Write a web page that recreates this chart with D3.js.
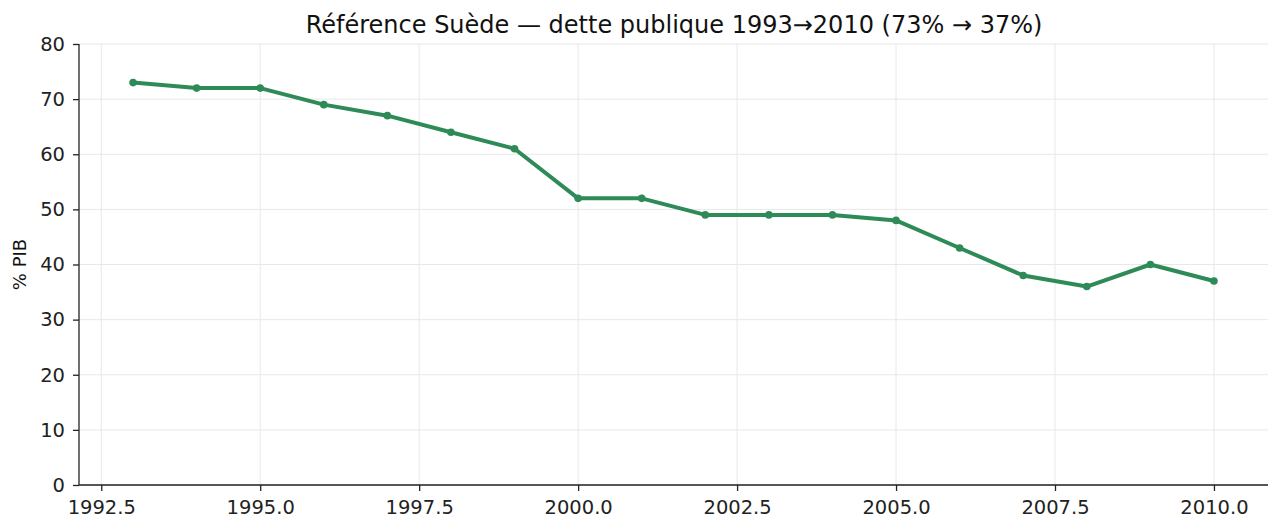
<!DOCTYPE html>
<html><head><meta charset="utf-8">
<script src="https://cdn.jsdelivr.net/npm/d3@7"></script>
<style>body{margin:0;background:#fff;} text{font-family:"DejaVu Sans",sans-serif;}</style>
</head><body>
<svg id="c" width="1270" height="519"></svg>
<script>
const years = [1993,1994,1995,1996,1997,1998,1999,2000,2001,2002,2003,2004,2005,2006,2007,2008,2009,2010];
const debt = [73,72,72,69,67,64,61,52,52,49,49,49,48,43,38,36,40,37];
const xTicks = [1992.5,1995.0,1997.5,2000.0,2002.5,2005.0,2007.5,2010.0];
const yTicks = [0,10,20,30,40,50,60,70,80];
const title = "Référence Suède — dette publique 1993→2010 (73% → 37%)";
const yLabel = "% PIB";

const svg = d3.select("#c");
const L = 79, R = 1268, T = 44, B = 485;
const x = d3.scaleLinear().domain([1992.15, 2010.85]).range([L, R]);
const y = d3.scaleLinear().domain([0, 80]).range([B, T]);

// grid
svg.append("g").selectAll("line").data(xTicks).join("line")
  .attr("x1", d => x(d)).attr("x2", d => x(d)).attr("y1", T).attr("y2", B)
  .attr("stroke", "#e8e8e8").attr("stroke-width", 1);
svg.append("g").selectAll("line").data(yTicks).join("line")
  .attr("x1", L).attr("x2", R).attr("y1", d => y(d)).attr("y2", d => y(d))
  .attr("stroke", "#e8e8e8").attr("stroke-width", 1);

// axes
const xa = svg.append("g").attr("transform", `translate(0,${B})`)
  .call(d3.axisBottom(x).tickValues(xTicks).tickFormat(d3.format(".1f")).tickSize(6).tickPadding(9));
const ya = svg.append("g").attr("transform", `translate(${L},0)`)
  .call(d3.axisLeft(y).tickValues(yTicks).tickSize(6).tickPadding(8));
[xa, ya].forEach(a => {
  a.selectAll("text").attr("font-size", 19.5).attr("fill", "#222").style("font-family", "DejaVu Sans");
  a.selectAll("line").attr("stroke", "#222").attr("stroke-width", 1.3);
  a.select(".domain").attr("stroke", "#222").attr("stroke-width", 1.3);
});
xa.select(".domain").attr("d", `M${L},0H${R}`);
ya.select(".domain").attr("d", `M0,${B}V${T}`);

// line
svg.append("path").datum(years.map((yr, i) => [yr, debt[i]]))
  .attr("fill", "none").attr("stroke", "#2e8b57").attr("stroke-width", 4)
  .attr("stroke-linejoin", "round")
  .attr("d", d3.line().x(d => x(d[0])).y(d => y(d[1])));
svg.append("g").selectAll("circle").data(years.map((yr, i) => [yr, debt[i]])).join("circle")
  .attr("cx", d => x(d[0])).attr("cy", d => y(d[1])).attr("r", 3.8).attr("fill", "#2e8b57");

// title & label
svg.append("text").attr("x", (L + R) / 2 + 0.5).attr("y", 33).attr("text-anchor", "middle")
  .attr("font-size", 24).attr("fill", "#111").text(title);
svg.append("text").attr("transform", `translate(26,${(T + B) / 2}) rotate(-90)`)
  .attr("text-anchor", "middle").attr("font-size", 18).attr("fill", "#111").text(yLabel);
</script>
</body></html>
